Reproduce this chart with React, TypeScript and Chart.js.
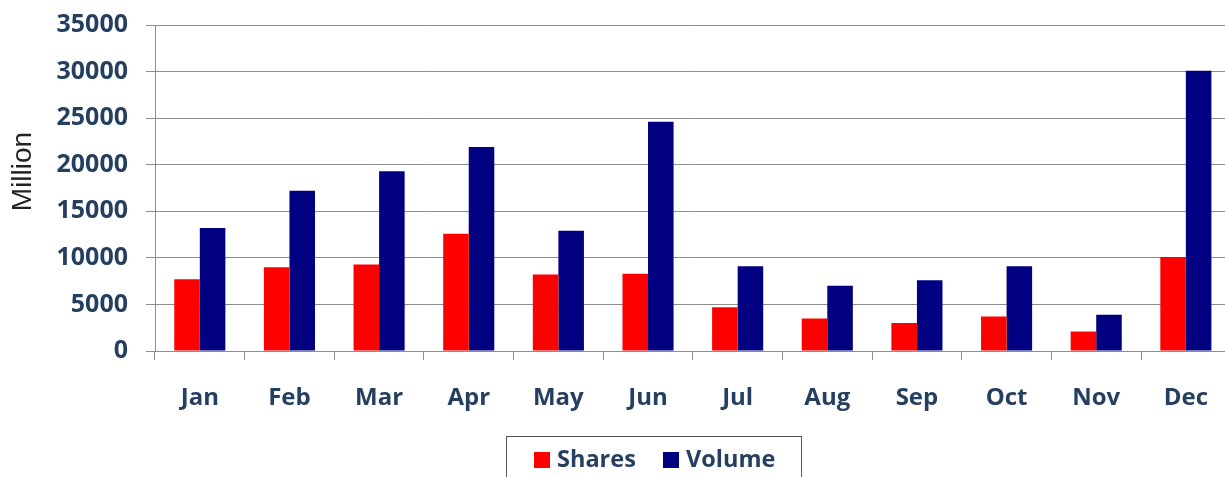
import React, { useEffect, useRef } from "react";
import { Chart, registerables } from "chart.js";

Chart.register(...registerables);

const categories = ["Jan", "Feb", "Mar", "Apr", "May", "Jun", "Jul", "Aug", "Sep", "Oct", "Nov", "Dec"];
const shares = [7700, 9000, 9300, 12600, 8200, 8300, 4700, 3500, 3000, 3700, 2100, 10100];
const volume = [13200, 17200, 19300, 21900, 12900, 24600, 9100, 7000, 7600, 9100, 3900, 30100];
const seriesNames = ["Shares", "Volume"];
const seriesColors = ["#FF0000", "#000080"];
const yAxisTitle = "Million";
const yMin = 0;
const yMax = 35000;
const yStep = 5000;

const TEXT_COLOR = "#243F60";
const GRID_COLOR = "#8E8E8E";
const FONT = "'Open Sans', Lato, sans-serif";

const overlayPlugin = {
  id: "overlay",
  afterDraw(chart: any) {
    const ctx = chart.ctx;
    ctx.save();
    ctx.fillStyle = "#222222";
    ctx.font = `28px 'Liberation Sans Narrow', 'Liberation Sans', sans-serif`;
    ctx.textAlign = "center";
    ctx.textBaseline = "middle";
    ctx.translate(23, 171.5);
    ctx.rotate(-Math.PI / 2);
    ctx.fillText(yAxisTitle, 0, 0);
    ctx.restore();

    ctx.save();
    ctx.strokeStyle = "#555555";
    ctx.lineWidth = 1;
    ctx.strokeRect(506.5, 436.5, 295, 60);
    ctx.font = `bold 23.5px ${FONT}`;
    ctx.textAlign = "left";
    ctx.textBaseline = "middle";
    const ds = chart.data.datasets;
    const positions = [534, 663];
    ds.forEach((d: any, i: number) => {
      const x = positions[i];
      ctx.fillStyle = d.backgroundColor;
      ctx.fillRect(x, 452, 16, 16);
      ctx.fillStyle = TEXT_COLOR;
      ctx.fillText(d.label, x + 23, 460);
    });
    ctx.restore();
  },
};

export default function App() {
  const ref = useRef<HTMLCanvasElement>(null);
  useEffect(() => {
    document.body.style.margin = "0";
    const chart = new Chart(ref.current!, {
      type: "bar",
      data: {
        labels: categories,
        datasets: [
          { label: seriesNames[0], data: shares, backgroundColor: seriesColors[0] },
          { label: seriesNames[1], data: volume, backgroundColor: seriesColors[1] },
        ],
      },
      options: {
        responsive: false,
        maintainAspectRatio: false,
        animation: false,
        layout: { padding: { top: 25, left: 0, right: 0, bottom: 0 } },
        datasets: {
          bar: { barPercentage: 1, categoryPercentage: 0.57 },
        },
        plugins: {
          legend: { display: false },
          tooltip: { enabled: false },
        },
        scales: {
          x: {
            offset: true,
            grid: {
              offset: true,
              drawOnChartArea: false,
              drawTicks: true,
              tickLength: 9,
              color: GRID_COLOR,
            },
            border: { display: true, color: GRID_COLOR, width: 1 },
            ticks: {
              color: TEXT_COLOR,
              font: { family: FONT, size: 24, weight: "bold" },
              padding: 24,
              maxRotation: 0,
            },
            afterFit(scale: any) {
              scale.height = 126;
            },
          },
          y: {
            min: yMin,
            max: yMax,
            ticks: {
              stepSize: yStep,
              color: TEXT_COLOR,
              font: { family: FONT, size: 25, weight: "bold" },
              padding: 18,
              callback: (v: any) => String(v),
            },
            grid: { color: GRID_COLOR, tickLength: 9, lineWidth: 1 },
            border: { display: true, color: GRID_COLOR, width: 1 },
            afterFit(scale: any) {
              scale.width = 155;
              scale.paddingTop = 0;
              scale.paddingBottom = 0;
            },
          },
        },
      },
      plugins: [overlayPlugin],
    });
    return () => chart.destroy();
  }, []);
  return (
    <div style={{ width: 1225, height: 477, overflow: "hidden" }}>
      <canvas ref={ref} width={1232} height={477} style={{ display: "block" }} />
    </div>
  );
}
